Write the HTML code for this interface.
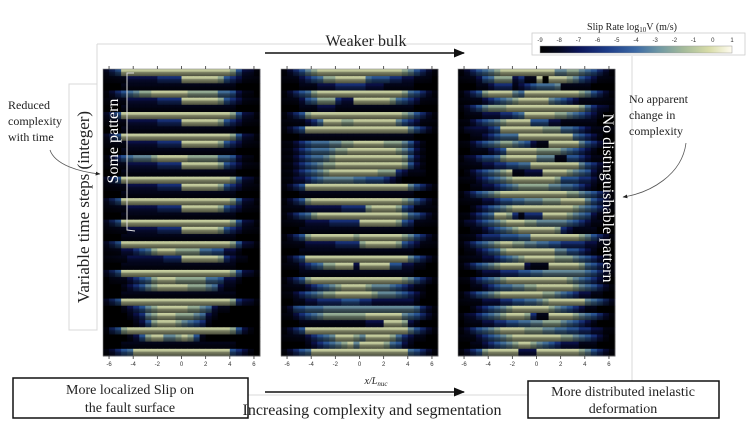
<!DOCTYPE html>
<html><head><meta charset="utf-8">
<style>
html,body{margin:0;padding:0;background:#fff;}
svg{display:block;}
.serif{font-family:"Liberation Serif",serif;fill:#222;}
.sans{font-family:"Liberation Sans",sans-serif;fill:#333;}
</style></head>
<body>
<svg id="fig" width="748" height="430" viewBox="0 0 748 430" xmlns="http://www.w3.org/2000/svg">
<defs>
<marker id="ah" viewBox="0 0 10 10" refX="9" refY="5" markerWidth="7" markerHeight="7" orient="auto"><path d="M0,1 L10,5 L0,9 z" fill="#111"/></marker>
<marker id="ah2" viewBox="0 0 10 10" refX="9" refY="5" markerWidth="6" markerHeight="6" orient="auto"><path d="M0,1 L10,5 L0,9 z" fill="#222"/></marker>
<linearGradient id="cmap" x1="0" x2="1" y1="0" y2="0">
<stop offset="0" stop-color="#000000"/><stop offset="0.1" stop-color="#05081f"/><stop offset="0.2" stop-color="#0b1458"/>
<stop offset="0.35" stop-color="#1d3c88"/><stop offset="0.5" stop-color="#3d6aa5"/><stop offset="0.62" stop-color="#6f98a4"/>
<stop offset="0.75" stop-color="#a5bb9a"/><stop offset="0.88" stop-color="#d8dca8"/><stop offset="1" stop-color="#fffcf0"/>
</linearGradient>
<linearGradient id="rowfade" x1="0" x2="0" y1="0" y2="1">
<stop offset="0" stop-color="#000" stop-opacity="0"/>
<stop offset="0.3" stop-color="#000" stop-opacity="0.1"/>
<stop offset="0.45" stop-color="#000" stop-opacity="0.4"/>
<stop offset="1" stop-color="#000" stop-opacity="0.65"/>
</linearGradient>
<linearGradient id="edgefade" x1="0" x2="1" y1="0" y2="0">
<stop offset="0" stop-color="#000" stop-opacity="0.6"/>
<stop offset="0.12" stop-color="#000" stop-opacity="0"/>
<stop offset="0.88" stop-color="#000" stop-opacity="0"/>
<stop offset="1" stop-color="#000" stop-opacity="0.6"/>
</linearGradient>
</defs>
<g stroke="#d8d8d8" stroke-width="1" fill="none">
<line x1="97" y1="44" x2="532" y2="44"/>
<line x1="97" y1="44" x2="97" y2="84"/>
<line x1="632" y1="56" x2="632" y2="395"/>
<line x1="248" y1="395" x2="632" y2="395"/>
<rect x="69" y="84" width="28" height="246"/>
</g>
<g id="panels"></g>
</svg>
<script>
const cbTicks = [-9,-8,-7,-6,-5,-4,-3,-2,-1,0,1];
const xTicks = [-6,-4,-2,0,2,4,6];
const xDomain = [-6.5, 6.5];
const leftRows = [
"23488888888888888888874221","11112222233338888887432111","00011111111111111111110000",
"12345677888888777775542110","11112222233338888887432111","00011111111111111111110000",
"23488888888888888888874221","11112222233338888887432111","00011111111111111111110000",
"23488888888888888888874221","11112222233338888887432111","00011111111111111111110000",
"12345666788888777775542110","11112222233338888887432111","00011111111111111111110000",
"23488888888888888888874221","11112222233338888887432111","00011111111111111111110000",
"23488888888888888888874221","11112222233338888887432111","00011111111111111111110000",
"23488888888888888888874221","11112222233338888887432111","00011111111111111111110000",
"23488888888888888888874221","11122345788877775544221000","11112222223338888887321100",
"00011111111111111111110000","23488888888888888888874221","01112345788877777554221000",
"00012346788888777652110000","00011111111111111111110000","23488888888888888888873221",
"00012346788888776521100000","00001236788877765210000000","00000124788876543100000000",
"13478888888888888888874210","00001247886678741000000000","00011111111111111111110000",
"12345888888888888888843210"
];
const midRows = [
"12346788888888888888764321","11123457788888544433221110","00011122233333222111110000",
"12345788888888888888754321","11124577732288888875432111","00011122211111111111110000",
"12347888888888888888764321","11112358887788888886432111","12348888888888888888864321",
"00011111111111111111110000","11234555667788888777642100","11234555677888888887642100",
"11234556788888888888742100","11234567788888888888742100","11234567888888887773211100",
"11223456666655444321000000","12348888888888888888864321","00011111111111111111110000",
"12347888888888888888764321","11112222223333788887431111","12345788888888888888754321",
"11112222333338888887431111","00011111111111111111110000","12347888888878888888764321",
"11112222233337888887432111","00011111111111111111110000","12348888888888888888864321",
"11123457788828888844221100","00011111111111111111110000","12347888888888888888764321",
"11112345678888766654321100","11234567788888876665432100","00112233334443322222221000",
"12445556666666666666665321","11234567777777888888654321","00011111111111222888721000",
"12348888888888888888864321","11112345688876888875321100","00001234567868888754210000",
"12345888888888888888854321"
];
const rightRows = [
"12345678888888886677654321","11124577723118088876432111","00011233312345556111110000",
"12347888865888888888764321","11112345678888865432111111","12346777888888888888753221",
"01112223345888887765432100","11234567888844422111111000","12222348888888777554321111",
"00112345558888888885432100","11234567765421188888643210","00111234888887777654321000",
"12234457888886661144321100","11112233445588888888643210","01234567811222888876542100",
"11123456788888887444332110","00112234567777766554321000","12345678888888888877654321",
"11112234455666777888864321","00123456788888888887654321","11234588731333888876542100",
"12234567888776666654321100","00112345678888887321111000","11123334445588888888764321",
"12345678877665544333322110","01123457888888886644321000","11112234567888887776543210",
"12345678888211188888754321","00012223334455666666654321","11234567888888888876543210",
"00112345566778888887654321","12345678888888776543221100","11112223344556788888865432",
"00123456788888876543211000","12234567888731188887654321","01112233445566777654321000",
"12345678888777665544332211","11123456788888888776543210","00112345678876543222111000",
"12347888882228888888764321"
];
const panelsX = [[103,260],[281,438],[458,615]];
const panelY = [69,356];
const panelData = [leftRows, midRows, rightRows];
const colors = ["#000000","#03051a","#0a1048","#17307a","#2a5798","#45739f","#6a90a0","#9ab39a","#cdd5a4","#f2f0cc"];
const NS = "http://www.w3.org/2000/svg";
const svg = document.getElementById('fig');
const g = document.getElementById('panels');
function mk(tag, attrs, parent){const e=document.createElementNS(NS,tag);for(const k in attrs)e.setAttribute(k,attrs[k]);(parent||svg).appendChild(e);return e;}
function xScale(p, v){const [a,b]=panelsX[p];return a+(v-xDomain[0])/(xDomain[1]-xDomain[0])*(b-a);}
function yScale(i, n){return panelY[0]+i*(panelY[1]-panelY[0])/n;}
function cbScale(v){return 540+(v-cbTicks[0])/(cbTicks[cbTicks.length-1]-cbTicks[0])*(732-540);}
panelData.forEach((rows,p)=>{
  const n=rows.length;
  rows.forEach((row,i)=>{
    const m=row.length;
    const y0=yScale(i,n), y1=yScale(i+1,n);
    for(let j=0;j<m;j++){
      const v0=xDomain[0]+j*(xDomain[1]-xDomain[0])/m, v1=xDomain[0]+(j+1)*(xDomain[1]-xDomain[0])/m;
      const x0=xScale(p,v0), x1=xScale(p,v1);
      const r=mk('rect',{x:x0.toFixed(2),y:y0.toFixed(2),width:(x1-x0+0.4).toFixed(2),height:(y1-y0+0.4).toFixed(2),fill:colors[+row[j]]},g);
      
      
    }
    const f=mk('rect',{x:panelsX[p][0],y:y0.toFixed(2),width:panelsX[p][1]-panelsX[p][0],height:(y1-y0+0.3).toFixed(2),fill:'url(#rowfade)'},g);
    
    
  });
  const ef=mk('rect',{x:panelsX[p][0],y:panelY[0],width:panelsX[p][1]-panelsX[p][0],height:panelY[1]-panelY[0],fill:'url(#edgefade)'},g);
  
  
  const fr=mk('rect',{x:panelsX[p][0],y:panelY[0],width:panelsX[p][1]-panelsX[p][0],height:panelY[1]-panelY[0],fill:'none',stroke:'#888','stroke-width':0.6});
  
  
  xTicks.forEach(t=>{
    const x=xScale(p,t);
    mk('line',{x1:x,y1:panelY[0]-3,x2:x,y2:panelY[0],stroke:'#333','stroke-width':0.8});
    mk('line',{x1:x,y1:panelY[1],x2:x,y2:panelY[1]+3,stroke:'#333','stroke-width':0.8});
    const tl=mk('text',{x:x,y:panelY[1]+10,'text-anchor':'middle','font-size':6,class:'sans'});
    tl.textContent=t;
    
    
  });
});
const cbBox=mk('rect',{x:532,y:33,width:213,height:22,fill:'#fff',stroke:'#ccc','stroke-width':0.8});


const cbBar=mk('rect',{x:540,y:46,width:192,height:7,fill:'url(#cmap)',stroke:'#999','stroke-width':0.5});


cbTicks.forEach(t=>{
  const x=cbScale(t);
  const tl=mk('text',{x:x,y:42,'text-anchor':'middle','font-size':6,class:'sans'});
  tl.textContent=t;
  
  
});
</script>
<svg style="position:absolute;left:0;top:0" width="748" height="430" viewBox="0 0 748 430">
<text class="serif" x="632" y="30" font-size="10" text-anchor="middle">Slip Rate log<tspan font-size="7" dy="2">10</tspan><tspan dy="-2">V (m/s)</tspan></text>
<text class="serif" x="366" y="46" font-size="16" text-anchor="middle">Weaker bulk</text>
<line x1="265" y1="53" x2="464" y2="53" stroke="#111" stroke-width="1.6" marker-end="url(#ah)"/>
<text class="serif" font-size="12"><tspan x="8" y="109">Reduced</tspan><tspan x="8" y="125">complexity</tspan><tspan x="8" y="141">with time</tspan></text>
<path d="M50,150 C55,165 80,172 100,174" fill="none" stroke="#555" stroke-width="0.8" marker-end="url(#ah2)"/>
<text class="serif" font-size="17" transform="translate(89,207) rotate(-90)" text-anchor="middle">Variable time steps (integer)</text>
<text font-family="Liberation Serif,serif" fill="#fff" font-size="16" transform="translate(118,141) rotate(-90)" text-anchor="middle">Some pattern</text>
<path d="M134,73 L127,73 L127,230 L135,231" fill="none" stroke="#ddd" stroke-width="1"/>
<text font-family="Liberation Serif,serif" fill="#fff" font-size="16" transform="translate(603,198) rotate(90)" text-anchor="middle">No distinguishable pattern</text>
<text class="serif" font-size="12"><tspan x="629" y="103">No apparent</tspan><tspan x="629" y="119">change in</tspan><tspan x="629" y="135">complexity</tspan></text>
<path d="M686,143 C682,175 650,193 623,197" fill="none" stroke="#555" stroke-width="0.8" marker-end="url(#ah2)"/>
<text class="serif" font-size="10" x="376" y="384" text-anchor="middle" font-style="italic">x/L<tspan font-size="7" dy="2">nuc</tspan></text>
<rect x="13" y="378" width="235" height="40" fill="#fff" stroke="#111" stroke-width="1.5"/>
<text class="serif" font-size="14" text-anchor="middle"><tspan x="130" y="394">More localized Slip on</tspan><tspan x="130" y="412">the fault surface</tspan></text>
<line x1="265" y1="392" x2="464" y2="392" stroke="#111" stroke-width="1.6" marker-end="url(#ah)"/>
<text class="serif" font-size="16" x="372" y="415" text-anchor="middle">Increasing complexity and segmentation</text>
<rect x="528" y="381" width="191" height="37" fill="#fff" stroke="#111" stroke-width="1.5"/>
<text class="serif" font-size="14" text-anchor="middle"><tspan x="623" y="396">More distributed inelastic</tspan><tspan x="623" y="413">deformation</tspan></text>
</svg>
</body></html>
